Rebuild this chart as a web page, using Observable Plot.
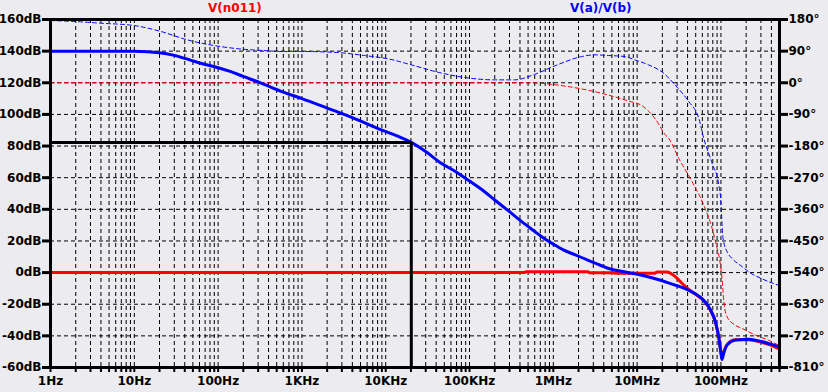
<!DOCTYPE html>
<html><head><meta charset="utf-8">
<script src="https://cdn.jsdelivr.net/npm/d3@7"></script>
<script src="https://cdn.jsdelivr.net/npm/@observablehq/plot@0.6"></script>
<style>
html,body{margin:0;padding:0;background:#ececf0;}
#wrap{position:relative;width:828px;height:392px;overflow:hidden;background:#ececf0}
.lbl{position:absolute;top:0px;font:bold 12px "DejaVu Sans";line-height:16px;white-space:nowrap}
</style></head><body><div id="wrap"></div>
<script>
// ---- axis definitions ----
const freqDecades = [1, 10, 100, 1e3, 1e4, 1e5, 1e6, 1e7, 1e8];
const freqLabels = ["1Hz", "10Hz", "100Hz", "1KHz", "10KHz", "100KHz", "1MHz", "10MHz", "100MHz"];
const freqMax = 5e8;
const dbTicks = [160, 140, 120, 100, 80, 60, 40, 20, 0, -20, -40, -60];
const phaseTicks = [180, 90, 0, -90, -180, -270, -360, -450, -540, -630, -720, -810];

// ---- series: V(a)/V(b) magnitude (dB) ----
const blueMagF = [1, 5, 10, 20, 30, 45, 62, 100, 142, 200, 325, 564, 1000, 2000, 4000, 8860, 15000, 20200, 30000, 46000, 70000, 96000, 140000, 200000, 300000, 420000, 600000, 727000, 1000000, 1300000, 1800000, 3000000, 4560000, 7000000, 10400000, 15000000, 21500000, 30000000, 41000000, 55000000, 65000000, 75000000, 86000000, 95000000, 100000000, 103000000, 108000000, 119000000, 149000000, 215000000, 300000000, 374000000, 500000000];
const blueMagDb = [140, 140, 139.9, 139, 137.3, 134.6, 132.3, 129.5, 127, 124, 119.8, 114.6, 110, 104, 98, 90.2, 85.5, 82.3, 76.5, 69.1, 63.5, 58.5, 52.5, 45.9, 38.5, 32.2, 26, 22.7, 18, 14.5, 11.3, 6.5, 2.6, 0.5, -1.2, -3.3, -5.8, -8.3, -11.1, -15, -18.5, -23.5, -31.1, -42, -51, -55, -51, -45.7, -42.7, -42.1, -43.5, -44.9, -47];

// ---- series: V(n011) magnitude (dB) ----
const redMagF = [1, 450000, 470000, 2600000, 2700000, 5200000, 5400000, 16000000, 17500000, 22700000, 28300000, 34000000, 41000000, 50000000, 65000000, 75000000, 86000000, 95000000, 100000000, 103000000, 108000000, 119000000, 149000000, 215000000, 300000000, 400000000, 500000000];
const redMagDb = [0, 0, 0.5, 0.5, -0.1, -0.1, -0.4, -0.4, 0.4, 0.4, -2.4, -6.6, -10.5, -13.8, -18.8, -23.8, -31.3, -42, -50, -53, -50, -45.3, -42.5, -42.5, -44, -46, -48.5];

// ---- series: V(a)/V(b) phase (deg) ----
const bluePhF = [1, 2.09, 3.96, 9.8, 20.7, 43, 89, 155, 391, 564, 1000, 2690, 5550, 10700, 20200, 42000, 88000, 200000, 345000, 600000, 1040000, 2190000, 3130000, 4560000, 7150000, 9400000, 13700000, 20700000, 28300000, 41300000, 54400000, 62400000, 78500000, 94400000, 100000000, 103000000, 106000000, 118700000, 136000000, 179000000, 215000000, 311000000, 500000000];
const bluePhDeg = [177, 174, 169.5, 163, 146, 122, 106, 98, 91, 89, 89, 86, 77.5, 68, 51, 30, 15, 8.3, 8.3, 24, 48, 74.6, 79.4, 77.5, 74.6, 65, 51, 27.4, -6, -53.5, -101, -158, -229, -291, -340, -400, -443, -481, -500, -523, -538, -558, -577];

// ---- series: V(n011) phase (deg) ----
const redPhF = [1, 450000, 727000, 1000000, 2190000, 4560000, 7900000, 11400000, 16500000, 21700000, 23800000, 31400000, 45200000, 62400000, 78500000, 90100000, 96000000, 103300000, 108300000, 118700000, 149000000, 179000000, 259000000, 374000000, 500000000];
const redPhDeg = [0, 0, -1.5, -5, -17.6, -35, -52, -65, -103, -148, -158, -215, -281, -348, -414, -471, -500, -560, -623, -666, -690, -699, -718, -733, -748];

// ---- cursor ----
const cursorF = [20200];
const cursorDb = [82.3];

// ---- helpers ----
const toDb = p => (p + 810) * 220 / 990 - 60;
const fromDb = d => Math.round((d + 60) * 990 / 220 - 810);
const zip = (fs, vs, key) => fs.map((f, i) => ({f, [key]: vs[i]}));
const blueMag = zip(blueMagF, blueMagDb, "db");
const redMag = zip(redMagF, redMagDb, "db");
const bluePh = zip(bluePhF, bluePhDeg, "deg");
const redPh = zip(redPhF, redPhDeg, "deg");
const cursor = cursorF.map((f, i) => ({f, db: cursorDb[i]}));

const gridF = [];
const minorF = [];
for (const d of freqDecades) for (let k = 1; k <= 9; k++) {
  const f = d * k;
  if (f > freqMax) continue;
  if (f > 1) gridF.push(f);
  if (k > 1) minorF.push(f);
}
const labelOf = new Map(freqDecades.map((f, i) => [f, freqLabels[i]]));

const dash = "4,3";
const chart = Plot.plot({
  width: 828, height: 392,
  marginLeft: 50, marginRight: 49, marginTop: 19, marginBottom: 25,
  style: {background: "#ececf0", color: "black", fontFamily: "DejaVu Sans", fontSize: "12px", fontWeight: "bold", overflow: "visible"},
  x: {type: "log", domain: [1, freqMax], axis: null},
  y: {domain: [-60, 160], axis: null},
  marks: [
    Plot.ruleX(gridF, {stroke: "black", strokeWidth: 1, strokeDasharray: dash}),
    Plot.ruleY(dbTicks.slice(1, -1), {stroke: "black", strokeWidth: 1, strokeDasharray: dash}),
    Plot.line(redPh, {x: "f", y: d => toDb(d.deg), stroke: "#ff0000", strokeWidth: 1, strokeDasharray: dash, curve: "monotone-x"}),
    Plot.line(bluePh, {x: "f", y: d => toDb(d.deg), stroke: "#0000ff", strokeWidth: 1, strokeDasharray: dash, curve: "monotone-x"}),
    Plot.line(redMag, {x: "f", y: "db", stroke: "#ff0000", strokeWidth: 3, curve: "monotone-x"}),
    Plot.line(blueMag, {x: "f", y: "db", stroke: "#0000ff", strokeWidth: 3, curve: "monotone-x"}),
    Plot.ruleY(cursor, {y: "db", x1: 1, x2: "f", stroke: "black", strokeWidth: 3}),
    Plot.ruleX(cursor, {x: "f", y1: -60, y2: "db", stroke: "black", strokeWidth: 3}),
    Plot.frame({stroke: "black", strokeWidth: 3}),
    Plot.axisY({anchor: "left", ticks: dbTicks, tickFormat: d => d + "dB", tickSize: 8, tickPadding: 1, strokeWidth: 3, fontWeight: "bold", label: null}),
    Plot.axisY({anchor: "right", ticks: phaseTicks.map(toDb), tickFormat: d => fromDb(d) + "°", tickSize: 8, tickPadding: 1, strokeWidth: 3, fontWeight: "bold", label: null}),
    Plot.axisX({anchor: "bottom", ticks: minorF, tickFormat: () => "", tickSize: 5, strokeWidth: 2, label: null}),
    Plot.axisX({anchor: "bottom", ticks: freqDecades, tickFormat: f => labelOf.get(f), tickSize: 5, tickPadding: 4, strokeWidth: 2, fontWeight: "bold", label: null})
  ]
});
const wrap = document.getElementById("wrap");
wrap.appendChild(chart);
const titles = [["V(n011)", "#ff0000", 208], ["V(a)/V(b)", "#0000ff", 570]];
for (const [t, c, left] of titles) {
  const s = document.createElement("span");
  s.className = "lbl"; s.textContent = t; s.style.color = c; s.style.left = left + "px";
  wrap.appendChild(s);
}
</script></body></html>
